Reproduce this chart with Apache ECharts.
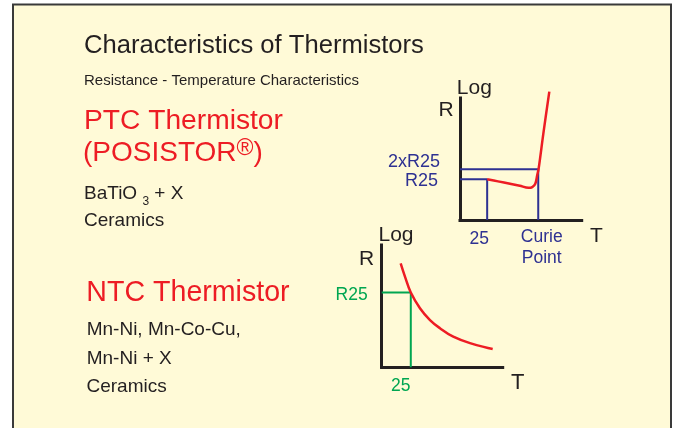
<!DOCTYPE html>
<html>
<head>
<meta charset="utf-8">
<style>html,body{margin:0;padding:0;background:#fff;}#c{width:675px;height:428px;}</style>
<script src="https://cdn.jsdelivr.net/npm/echarts@6/dist/echarts.min.js"></script>
</head>
<body>
<div id="c"></div>
<script>
// ---- Data ----
// PTC curve: T (abstract temperature units) vs log R
const ptcT    = [25, 35, 46, 55, 63, 66.5, 69.3, 71.1, 72.4, 76.7, 82.2];
const ptcLogR = [1.2, 1.14, 1.07, 1.01, 0.95, 0.97, 1.07, 1.33, 1.52, 2.55, 3.79];
const ptcT25 = 25, ptcCurieT = 72;
const ptcR25 = 1.2, ptc2R25 = 1.5;
const ptcXTicks = [25, 72];
const ptcXLabels = ['25', 'Curie\nPoint'];
const ptcYTicks = [1.2, 1.5];
const ptcYLabels = ['R25', '2xR25'];

// NTC curve
const ntcT    = [16.3, 20, 25, 32.9, 41.5, 50.1, 61.5, 75.9, 95.4];
const ntcLogR = [3.06, 2.67, 2.2, 1.74, 1.39, 1.15, 0.90, 0.71, 0.54];
const ntcT25 = 25, ntcR25 = 2.2;
const ntcXTicks = [25];
const ntcXLabels = ['25'];
const ntcYTicks = [2.2];
const ntcYLabels = ['R25'];

// ---- Styles ----
const FONT = "'Liberation Sans', Arial, Helvetica, sans-serif";
const INK = '#231F20', RED = '#ED1C24', BLUE = '#2E3192', GREEN = '#00A651';

const axisLine = {show: true, onZero: false, lineStyle: {color: INK, width: 3, cap: 'square'}};

function lbl(ticks, labels) {
  return function (v) {
    for (let i = 0; i < ticks.length; i++) {
      if (Math.abs(ticks[i] - v) < 1e-6) return labels[i];
    }
    return '';
  };
}

function t(text, left, top, size, color, extra) {
  return Object.assign({
    text: text, left: left, top: top, padding: 0,
    textStyle: {fontFamily: FONT, fontSize: size, color: color, fontWeight: 'normal', lineHeight: 32}
  }, extra || {});
}

const chart = echarts.init(document.getElementById('c'), null, {renderer: 'canvas'});
chart.setOption({
  animation: false,
  backgroundColor: '#FFFAD7',
  graphic: [
    {type: 'rect', shape: {x: 0, y: 0, width: 675, height: 4}, style: {fill: '#fff'}, silent: true},
    {type: 'rect', shape: {x: 0, y: 0, width: 12, height: 428}, style: {fill: '#fff'}, silent: true},
    {type: 'rect', shape: {x: 672, y: 0, width: 3, height: 428}, style: {fill: '#fff'}, silent: true},
    {type: 'polyline', shape: {points: [[13, 440], [13, 4.5], [671, 4.5], [671, 440]]},
     style: {stroke: '#3A3A3A', lineWidth: 2, fill: null}, silent: true}
  ],
  title: [
    t('Characteristics of Thermistors', 84, 30, 25.6, INK),
    t('Resistance - Temperature Characteristics', 84, 65, 15, INK),
    t('PTC Thermistor', 84, 105, 28.2, RED),
    {text: '(POSISTOR{r|®})', left: 83, top: 137.3, padding: 0,
     textStyle: {fontFamily: FONT, fontSize: 28, color: RED, fontWeight: 'normal', lineHeight: 32,
       rich: {r: {fontFamily: FONT, fontSize: 23, color: RED, lineHeight: 32, padding: [0, 0, 9, 0]}}}},
    {text: '{a|BaTiO }{s|3}{a| + X}', left: 84, top: 177.3, padding: 0,
     textStyle: {fontFamily: FONT, fontSize: 19, color: INK, fontWeight: 'normal', lineHeight: 32,
       rich: {
         a: {fontFamily: FONT, fontSize: 19, color: INK, lineHeight: 32},
         s: {fontFamily: FONT, fontSize: 12, color: INK, lineHeight: 32, padding: [17, 0, 0, 0]}
       }}},
    t('Ceramics', 84, 204.5, 19, INK),
    t('NTC Thermistor', 86.3, 277, 28.6, RED),
    t('Mn-Ni, Mn-Co-Cu,', 86.7, 314, 19, INK),
    t('Mn-Ni + X', 86.7, 342.3, 19, INK),
    t('Ceramics', 86.5, 370.3, 19, INK),
    // axis annotations
    t('Log', 456.8, 71.8, 21, INK),
    t('R', 438.4, 94.3, 21, INK),
    t('T', 590, 219.8, 21, INK),
    t('Log', 378.5, 219.2, 21, INK),
    t('R', 359, 242.8, 21, INK),
    t('T', 511, 366.8, 22, INK)
  ],
  grid: [
    {left: 460, top: 98, width: 121.7, height: 122, outerBoundsMode: 'none', containLabel: false},
    {left: 381.7, top: 245, width: 121, height: 122.3, outerBoundsMode: 'none', containLabel: false}
  ],
  xAxis: [
    {gridIndex: 0, type: 'value', min: 0, max: 112, axisLine: axisLine,
     axisTick: {show: false}, splitLine: {show: false},
     axisLabel: {customValues: ptcXTicks, hideOverlap: false, margin: 7, color: BLUE, fontFamily: FONT, fontSize: 17.5, lineHeight: 21,
       formatter: function (v) {
         const s = lbl(ptcXTicks, ptcXLabels)(v);
         const isFirst = Math.abs(v - ptcXTicks[0]) < 1e-6;
         return s.split('\n').map(function (p) { return (isFirst ? '{a|' : '{b|') + p + '}'; }).join('\n');
       },
       rich: {
         a: {color: BLUE, fontFamily: FONT, fontSize: 17.5, lineHeight: 21, padding: [3, 16, 0, 0]},
         b: {color: BLUE, fontFamily: FONT, fontSize: 17.5, lineHeight: 21, padding: [0, 0, 0, 7]}
       }}},
    {gridIndex: 1, type: 'value', min: 0, max: 104, axisLine: axisLine,
     axisTick: {show: false}, splitLine: {show: false},
     axisLabel: {customValues: ntcXTicks, hideOverlap: false, margin: 8, color: GREEN, fontFamily: FONT, fontSize: 17.5, lineHeight: 21,
       formatter: function (v) { return '{a|' + lbl(ntcXTicks, ntcXLabels)(v) + '}'; },
       rich: {a: {color: GREEN, fontFamily: FONT, fontSize: 17.5, lineHeight: 21, padding: [0, 20, 0, 0]}}}}
  ],
  yAxis: [
    // PTC: axis line + R25 label
    {gridIndex: 0, type: 'value', min: 0, max: 3.6, axisLine: axisLine,
     axisTick: {show: false}, splitLine: {show: false},
     axisLabel: {customValues: [ptcYTicks[0]], hideOverlap: false, margin: 20, color: BLUE, fontFamily: FONT, fontSize: 18,
       formatter: function (v) { return '{a|' + lbl(ptcYTicks, ptcYLabels)(v) + '}'; },
       rich: {a: {color: BLUE, fontFamily: FONT, fontSize: 18, padding: [3, 2, 0, 0]}}}},
    // NTC
    {gridIndex: 1, type: 'value', min: 0, max: 3.6, axisLine: axisLine,
     axisTick: {show: false}, splitLine: {show: false},
     axisLabel: {customValues: ntcYTicks, hideOverlap: false, margin: 14, color: GREEN, fontFamily: FONT, fontSize: 17.5,
       formatter: function (v) { return '{a|' + lbl(ntcYTicks, ntcYLabels)(v) + '}'; },
       rich: {a: {color: GREEN, fontFamily: FONT, fontSize: 17.5, padding: [5, 0, 0, 0]}}}},
    // PTC: 2xR25 label (same scale, no line)
    {gridIndex: 0, type: 'value', min: 0, max: 3.6, position: 'left', offset: 0,
     axisLine: {show: false}, axisTick: {show: false}, splitLine: {show: false},
     axisLabel: {customValues: [ptcYTicks[1]], hideOverlap: false, margin: 20, color: BLUE, fontFamily: FONT, fontSize: 18,
       formatter: function (v) { return '{b|' + lbl(ptcYTicks, ptcYLabels)(v) + '}'; },
       rich: {b: {color: BLUE, fontFamily: FONT, fontSize: 18, padding: [0, 0, 14, 0]}}}}
  ],
  series: [
    {type: 'line', xAxisIndex: 0, yAxisIndex: 0, symbol: 'none', clip: false, z: 3,
     lineStyle: {color: BLUE, width: 2},
     data: [[0, ptcR25], [ptcT25, ptcR25], [ptcT25, 0]]},
    {type: 'line', xAxisIndex: 0, yAxisIndex: 0, symbol: 'none', clip: false, z: 3,
     lineStyle: {color: BLUE, width: 2},
     data: [[0, ptc2R25], [ptcCurieT, ptc2R25], [ptcCurieT, 0]]},
    {type: 'line', xAxisIndex: 0, yAxisIndex: 0, symbol: 'none', clip: false, z: 4, smooth: 0.35,
     lineStyle: {color: RED, width: 2.5},
     data: ptcT.map(function (x, i) { return [x, ptcLogR[i]]; })},
    {type: 'line', xAxisIndex: 1, yAxisIndex: 1, symbol: 'none', clip: false, z: 3,
     lineStyle: {color: GREEN, width: 2},
     data: [[0, ntcR25], [ntcT25, ntcR25], [ntcT25, 0]]},
    {type: 'line', xAxisIndex: 1, yAxisIndex: 1, symbol: 'none', clip: false, z: 4, smooth: 0.4,
     lineStyle: {color: RED, width: 2.5},
     data: ntcT.map(function (x, i) { return [x, ntcLogR[i]]; })}
  ]
});
</script>
</body>
</html>
